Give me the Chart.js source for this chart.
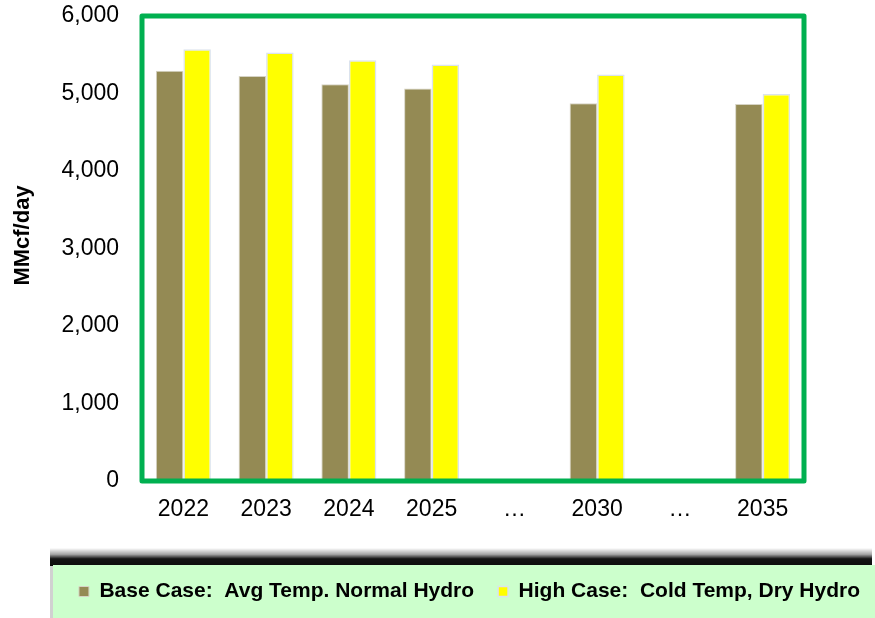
<!DOCTYPE html>
<html>
<head>
<meta charset="utf-8">
<script src="https://cdn.jsdelivr.net/npm/chart.js@4"></script>
<style>
  html, body { margin: 0; padding: 0; background: #ffffff; }
  #wrap { position: relative; width: 875px; height: 618px; }
</style>
</head>
<body>
<div id="wrap"><canvas id="c" width="875" height="618"></canvas></div>
<script>
const categories = ['2022', '2023', '2024', '2025', '\u2026', '2030', '\u2026', '2035'];
const baseCase = [5295, 5225, 5120, 5065, null, 4875, null, 4865];
const highCase = [5570, 5530, 5430, 5375, null, 5245, null, 4995];
const seriesLabels = ['Base Case:  Avg Temp. Normal Hydro', 'High Case:  Cold Temp, Dry Hydro'];
const yTicks = [0, 1000, 2000, 3000, 4000, 5000, 6000];

const FONT = "'Liberation Sans', Arial, sans-serif";

const framePlugin = {
  id: 'frame',
  beforeDraw(chart) {
    const ctx = chart.ctx;
    ctx.save();
    const g = ctx.createLinearGradient(0, 548, 0, 566);
    g.addColorStop(0, 'rgba(0,0,0,0)');
    g.addColorStop(0.35, 'rgba(0,0,0,0.35)');
    g.addColorStop(0.6, 'rgba(0,0,0,0.92)');
    g.addColorStop(1, 'rgba(0,0,0,0.95)');
    ctx.fillStyle = g;
    ctx.fillRect(50, 548, 822, 18);
    ctx.fillStyle = 'rgba(0,0,0,0.18)';
    ctx.fillRect(50, 565, 3, 53);
    ctx.fillStyle = '#ccffcc';
    ctx.fillRect(53, 565, 822, 53);
    ctx.restore();
  },
  afterLayout(chart) {
    const lg = chart.legend;
    if (lg) { lg.left += 32; lg.right += 32; }
    const ys = chart.scales.y;
    if (ys && !ys._titleShifted) {
      const orig = ys.drawTitle;
      ys.drawTitle = function () {
        this.ctx.save();
        this.ctx.translate(0, -13);
        orig.apply(this, arguments);
        this.ctx.restore();
      };
      ys._titleShifted = true;
    }
  },
  afterDatasetsDraw(chart) {
    const a = chart.chartArea;
    const ctx = chart.ctx;
    ctx.save();
    ctx.strokeStyle = '#00b050';
    ctx.lineWidth = 5;
    ctx.lineJoin = 'round';
    ctx.strokeRect(a.left, a.top, a.right - a.left, a.bottom - a.top);
    ctx.restore();
  }
};

new Chart(document.getElementById('c'), {
  type: 'bar',
  data: {
    labels: categories,
    datasets: [
      {
        label: seriesLabels[0],
        data: baseCase,
        backgroundColor: '#948a54',
        borderColor: '#d6d3c4',
        borderWidth: 1,
        categoryPercentage: 0.665,
        barPercentage: 1.0
      },
      {
        label: seriesLabels[1],
        data: highCase,
        backgroundColor: '#ffff00',
        borderColor: '#dbe3ee',
        borderWidth: 1.5,
        categoryPercentage: 0.665,
        barPercentage: 1.0
      }
    ]
  },
  options: {
    responsive: false,
    animation: false,
    devicePixelRatio: 1,
    layout: { padding: { top: 16, left: 0, right: 0, bottom: 6 } },
    plugins: {
      tooltip: { enabled: false },
      legend: {
        position: 'bottom',
        labels: {
          color: '#000000',
          font: { family: FONT, size: 21, weight: 'bold' },
          boxWidth: 10,
          boxHeight: 10,
          padding: 24
        }
      }
    },
    scales: {
      x: {
        grid: { display: false, drawTicks: false },
        border: { display: false },
        ticks: {
          color: '#000000',
          font: { family: FONT, size: 23 },
          padding: 15,
          maxRotation: 0,
          autoSkip: false
        },
        afterFit(scale) { scale.height = 76; }
      },
      y: {
        min: 0,
        max: 6000,
        grid: { display: false, drawTicks: false },
        border: { display: false },
        afterBuildTicks(scale) { scale.ticks = yTicks.map(v => ({ value: v })); },
        ticks: {
          color: '#000000',
          font: { family: FONT, size: 23 },
          padding: 23,
          callback: (v) => Number(v).toLocaleString('en-US')
        },
        title: {
          display: true,
          text: 'MMcf/day',
          color: '#000000',
          font: { family: FONT, size: 22, weight: 'bold' },
          padding: { top: 10, bottom: 0 }
        },
        afterFit(scale) {
          scale.width = 142;
          scale.paddingTop = 0;
          scale.paddingBottom = 0;
        }
      },
      yRightSpacer: {
        type: 'linear',
        position: 'right',
        display: true,
        grid: { display: false, drawTicks: false },
        border: { display: false },
        ticks: { display: false },
        afterFit(scale) { scale.width = 71; scale.paddingTop = 0; scale.paddingBottom = 0; }
      }
    }
  },
  plugins: [framePlugin]
});
</script>
</body>
</html>
